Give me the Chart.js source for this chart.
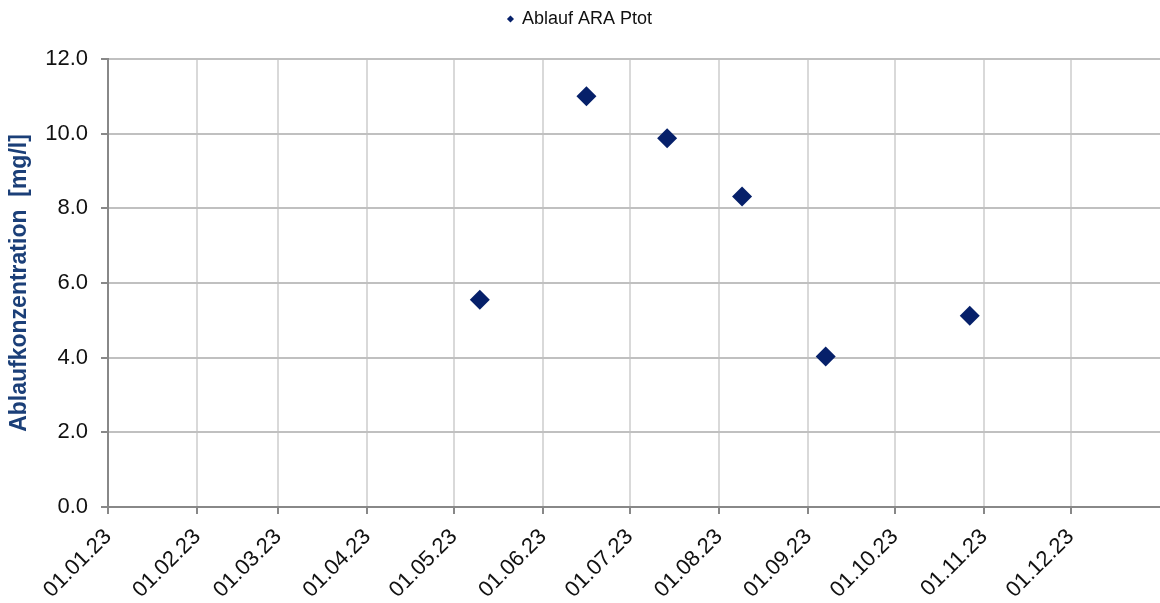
<!DOCTYPE html>
<html>
<head>
<meta charset="utf-8">
<script src="https://cdn.jsdelivr.net/npm/chart.js@4/dist/chart.umd.min.js"></script>
<style>
  html, body { margin: 0; padding: 0; background: #fff; }
  #wrap { width: 1160px; height: 603px; }
</style>
</head>
<body>
<div id="wrap"><canvas id="chart"></canvas></div>
<script>
// Messdaten (Datum, Ablauf ARA Ptot in mg/l)
const messDaten = ['2023-05-10', '2023-06-16', '2023-07-14', '2023-08-09', '2023-09-07', '2023-10-27'];
const ptotWerte = [5.55, 11.0, 9.88, 8.32, 4.03, 5.12];
const monatsTicks = ['2023-01-01', '2023-02-01', '2023-03-01', '2023-04-01', '2023-05-01', '2023-06-01',
  '2023-07-01', '2023-08-01', '2023-09-01', '2023-10-01', '2023-11-01', '2023-12-01'];
const xMin = '2023-01-01';
const xMax = '2024-01-01';

const ms = s => Date.parse(s + 'T00:00:00Z');
const fmtDatum = v => {
  const d = new Date(v);
  const p = n => String(n).padStart(2, '0');
  return p(d.getUTCDate()) + '.' + p(d.getUTCMonth() + 1) + '.' + p(d.getUTCFullYear() % 100);
};

const FONT = "'Liberation Sans', Arial, sans-serif";

// etwas mehr Platz unter der Legende
const legendeAbstand = {
  id: 'legendeAbstand',
  beforeInit(chart) {
    const fit = chart.legend.fit;
    chart.legend.fit = function () {
      fit.call(this);
      this.height += 21;
    };
  }
};

new Chart(document.getElementById('chart'), {
  type: 'scatter',
  data: {
    datasets: [{
      label: 'Ablauf ARA Ptot',
      data: messDaten.map((d, i) => ({ x: ms(d), y: ptotWerte[i] })),
      pointStyle: 'rectRot',
      pointRadius: 10,
      pointHoverRadius: 10,
      backgroundColor: '#06206a',
      borderColor: '#06206a',
      borderWidth: 0
    }]
  },
  plugins: [legendeAbstand],
  options: {
    responsive: true,
    maintainAspectRatio: false,
    animation: false,
    layout: { autoPadding: false, padding: 0 },
    plugins: {
      tooltip: { enabled: false },
      legend: {
        position: 'top',
        align: 'center',
        labels: {
          usePointStyle: true,
          pointStyle: 'rectRot',
          boxWidth: 5,
          boxHeight: 5,
          padding: 10,
          color: '#111',
          font: { family: FONT, size: 18 }
        }
      }
    },
    scales: {
      x: {
        type: 'linear',
        min: ms(xMin),
        max: ms(xMax),
        afterBuildTicks: axis => { axis.ticks = monatsTicks.map(t => ({ value: ms(t) })); },
        afterFit: axis => { axis.height = 96; },
        grid: { color: '#d9d9d9', lineWidth: 2, tickColor: '#888', tickLength: 7 },
        border: { color: '#888', width: 2 },
        ticks: {
          autoSkip: false,
          minRotation: 45,
          maxRotation: 45,
          padding: 10,
          color: '#111',
          font: { family: FONT, size: 22 },
          callback: v => fmtDatum(v)
        }
      },
      y: {
        min: 0,
        max: 12,
        afterFit: axis => { axis.width = 108; },
        grid: { color: '#c0c0c0', lineWidth: 2, tickColor: '#888', tickLength: 7 },
        border: { color: '#888', width: 2 },
        ticks: {
          stepSize: 2,
          padding: 13,
          color: '#111',
          font: { family: FONT, size: 22 },
          callback: v => v.toFixed(1)
        },
        title: {
          display: true,
          text: 'Ablaufkonzentration  [mg/l]',
          color: '#1b3f78',
          padding: { top: 6, bottom: 0 },
          font: { family: FONT, size: 23, weight: 'bold' }
        }
      }
    }
  }
});
</script>
</body>
</html>
